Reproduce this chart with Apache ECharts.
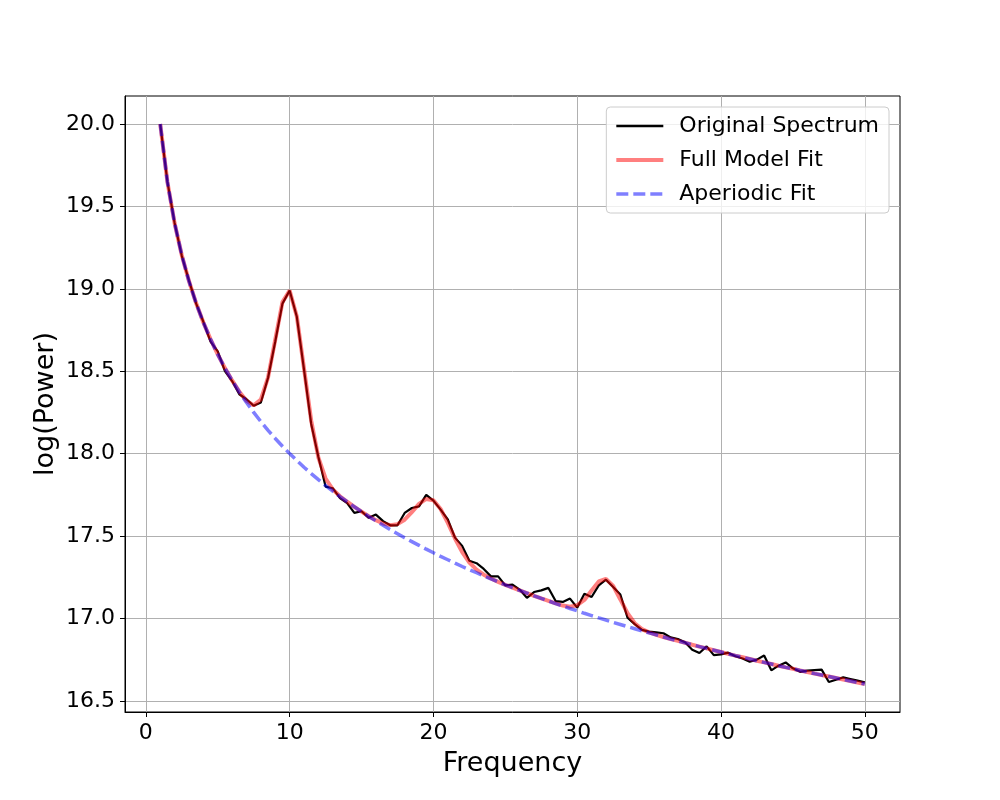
<!DOCTYPE html>
<html>
<head>
<meta charset="utf-8">
<script src="https://cdn.jsdelivr.net/npm/echarts@6/dist/echarts.min.js"></script>
<style>
html,body{margin:0;padding:0;background:#fff;}
#chart{width:1000px;height:800px;}
</style>
</head>
<body>
<div id="chart"></div>
<script>
var freqs = [1,1.5,2,2.5,3,3.5,4,4.5,5,5.5,6,6.5,7,7.5,8,8.5,9,9.5,10,10.5,11,11.5,12,12.5,13,13.5,14,14.5,15,15.5,16,16.5,17,17.5,18,18.5,19,19.5,20,20.5,21,21.5,22,22.5,23,23.5,24,24.5,25,25.5,26,26.5,27,27.5,28,28.5,29,29.5,30,30.5,31,31.5,32,32.5,33,33.5,34,34.5,35,35.5,36,36.5,37,37.5,38,38.5,39,39.5,40,40.5,41,41.5,42,42.5,43,43.5,44,44.5,45,45.5,46,46.5,47,47.5,48,48.5,49,49.5,50];

var originalSpectrum = [20.00,19.65,19.40,19.20,19.05,18.91,18.80,18.68,18.62,18.50,18.44,18.36,18.33,18.29,18.31,18.46,18.68,18.91,18.99,18.83,18.51,18.18,17.98,17.80,17.79,17.73,17.70,17.64,17.65,17.61,17.63,17.59,17.565,17.565,17.64,17.67,17.68,17.75,17.715,17.66,17.60,17.49,17.44,17.35,17.335,17.30,17.255,17.255,17.20,17.205,17.175,17.125,17.16,17.17,17.185,17.105,17.10,17.12,17.065,17.15,17.13,17.20,17.235,17.19,17.145,17.005,16.965,16.93,16.92,16.915,16.91,16.885,16.875,16.855,16.81,16.79,16.83,16.777,16.782,16.792,16.77,16.757,16.737,16.75,16.775,16.685,16.713,16.733,16.697,16.676,16.683,16.686,16.689,16.614,16.628,16.642,16.632,16.622,16.612];

var fullModelFit = [20.000,19.648,19.398,19.204,19.046,18.912,18.796,18.694,18.602,18.519,18.444,18.376,18.321,18.293,18.328,18.462,18.692,18.919,18.990,18.832,18.517,18.200,17.976,17.849,17.783,17.741,17.708,17.677,17.648,17.620,17.596,17.576,17.566,17.572,17.599,17.645,17.695,17.725,17.717,17.664,17.580,17.485,17.402,17.339,17.296,17.265,17.242,17.222,17.204,17.187,17.170,17.154,17.137,17.121,17.106,17.091,17.078,17.071,17.080,17.112,17.169,17.224,17.240,17.197,17.115,17.031,16.971,16.935,16.915,16.900,16.887,16.875,16.864,16.852,16.840,16.829,16.818,16.807,16.796,16.785,16.774,16.764,16.754,16.743,16.733,16.723,16.713,16.703,16.694,16.684,16.675,16.665,16.656,16.647,16.638,16.629,16.620,16.611,16.602];

var aperiodicFit = [20.000,19.648,19.398,19.204,19.046,18.912,18.796,18.694,18.602,18.519,18.444,18.374,18.310,18.250,18.194,18.141,18.092,18.045,18.000,17.958,17.917,17.879,17.842,17.806,17.772,17.739,17.708,17.677,17.648,17.619,17.592,17.565,17.539,17.514,17.489,17.466,17.443,17.420,17.398,17.376,17.356,17.335,17.315,17.296,17.277,17.258,17.240,17.222,17.204,17.187,17.170,17.154,17.137,17.121,17.106,17.090,17.075,17.060,17.046,17.031,17.017,17.003,16.990,16.976,16.963,16.950,16.937,16.924,16.912,16.900,16.887,16.875,16.864,16.852,16.840,16.829,16.818,16.807,16.796,16.785,16.774,16.764,16.754,16.743,16.733,16.723,16.713,16.703,16.694,16.684,16.675,16.665,16.656,16.647,16.638,16.629,16.620,16.611,16.602];

var xTicks = [0,10,20,30,40,50];
var yTicks = [16.5,17.0,17.5,18.0,18.5,19.0,19.5,20.0];

function pairs(ys){ return freqs.map(function(f,i){ return [f, ys[i]]; }); }

var FONT = 'DejaVu Sans';
var chart = echarts.init(document.getElementById('chart'), null, {renderer:'canvas'});
chart.setOption({
  animation: false,
  backgroundColor: '#ffffff',
  textStyle: {fontFamily: FONT},
  grid: {left:125, right:100, top:96, bottom:88, show:true, borderColor:'#000', borderWidth:1, backgroundColor:'transparent'},
  legend: {
    orient:'vertical', right:111, top:107,
    itemWidth:47, itemHeight:14, itemGap:12,
    padding:[8,10,8,8],
    backgroundColor:'rgba(255,255,255,0.8)', borderColor:'#cccccc', borderWidth:1, borderRadius:4,
    itemStyle:{opacity:0},
    textStyle:{fontFamily:FONT, fontSize:22, color:'#000', lineHeight:22, padding:[0,0,0,11]},
    data:[
      {name:'Original Spectrum', lineStyle:{width:2.6, color:'#000000', opacity:1}},
      {name:'Full Model Fit', lineStyle:{width:4, color:'#ff0000', opacity:0.5}},
      {name:'Aperiodic Fit', lineStyle:{width:3.5, color:'#0000ff', opacity:0.5, type:[12,5]}}
    ]
  },
  xAxis: {
    type:'value', min:-1.45, max:52.45,
    name:'Frequency', nameLocation:'middle', nameGap:38,
    nameTextStyle:{fontFamily:FONT, fontSize:27, color:'#000'},
    axisLine:{show:true, onZero:false, lineStyle:{color:'#000', width:1}},
    axisTick:{show:true, inside:false, length:5, lineStyle:{color:'#000', width:1}, customValues:xTicks},
    axisLabel:{fontFamily:FONT, fontSize:22, color:'#000', margin:10, customValues:xTicks, formatter:function(v){return String(Math.round(v));}},
    splitLine:{show:true, lineStyle:{color:'#b0b0b0', width:1}}
  },
  yAxis: {
    type:'value', min:16.432, max:20.17,
    name:'log(Power)', nameLocation:'middle', nameGap:66, nameMoveOverlap:false,
    nameTextStyle:{fontFamily:FONT, fontSize:27, color:'#000'},
    axisLine:{show:true, onZero:false, lineStyle:{color:'#000', width:1}},
    axisTick:{show:true, inside:false, length:5, lineStyle:{color:'#000', width:1}, customValues:yTicks},
    axisLabel:{fontFamily:FONT, fontSize:22, color:'#000', margin:10, customValues:yTicks, formatter:function(v){return v.toFixed(1);}},
    splitLine:{show:true, lineStyle:{color:'#b0b0b0', width:1}}
  },
  series: [
    {name:'Original Spectrum', type:'line', data:pairs(originalSpectrum), symbol:'none', showSymbol:false,
     lineStyle:{color:'#000000', width:2.2}, itemStyle:{color:'#000000'}},
    {name:'Full Model Fit', type:'line', data:pairs(fullModelFit), symbol:'none', showSymbol:false,
     lineStyle:{color:'#ff0000', width:4, opacity:0.5}, itemStyle:{color:'#ff0000', opacity:0.5}},
    {name:'Aperiodic Fit', type:'line', data:pairs(aperiodicFit), symbol:'none', showSymbol:false,
     lineStyle:{color:'#0000ff', width:3.5, opacity:0.5, type:[12,5]}, itemStyle:{color:'#0000ff', opacity:0.5}}
  ]
});
</script>
</body>
</html>
